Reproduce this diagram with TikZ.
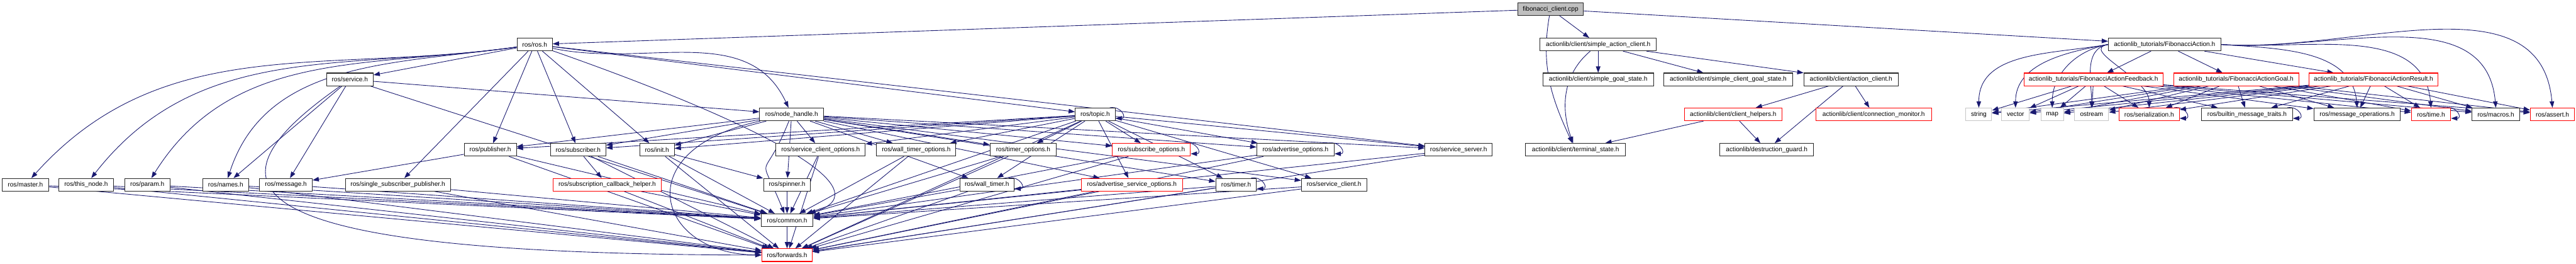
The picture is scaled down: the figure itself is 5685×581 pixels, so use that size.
\documentclass[tikz,border=0pt]{standalone}
\usepackage{fontspec}
\setmainfont{Liberation Sans}
\usetikzlibrary{arrows.meta}
\definecolor{edgeblue}{RGB}{25,25,112}
\pgfdeclarelayer{edges}
\pgfsetlayers{edges,main}

\begin{document}
\begin{tikzpicture}[x=0.02cm, y=0.02cm,
    file/.style={draw=black!85, line width=0.8pt, fill=white, minimum height=0.56cm,
      inner sep=0pt, font=\fontsize{8}{9.6}\selectfont},
    redfile/.style={file, draw=red},
    sysfile/.style={file, draw=gray!45},
    rootfile/.style={file, fill=gray!50},
    wd/.style={minimum width=#1*0.02cm},
    edge/.style={draw=edgeblue, line width=0.7pt, -{Triangle[length=0.28cm,width=0.2cm]}}]
        \useasboundingbox (0,0) rectangle (5685,-581);
        % Define rows
        \def\rowA{-20}
        \def\rowB{-98}
        \def\rowC{-175}
        \def\rowD{-252}
        \def\rowE{-330}
        \def\rowF{-407}
        \def\rowG{-485}
        \def\rowH{-562}
        % Root file
        \node[rootfile, wd=145] (fib) at (3422,\rowA) {fibonacci\_client.cpp};
        % Second row
        \node[file, wd=78] (ros) at (1180,\rowB) {ros/ros.h};
        \node[file, wd=257] (sac) at (3527,\rowB) {actionlib/client/simple\_action\_client.h};
        \node[file, wd=248] (fbaction) at (4777,\rowB) {actionlib\_tutorials/FibonacciAction.h};
        % Third row
        \node[file, wd=103] (service) at (772,\rowC) {ros/service.h};
        \node[file, wd=244] (sgstate) at (3527,\rowC) {actionlib/client/simple\_goal\_state.h};
        \node[file, wd=285] (scgstate) at (3814,\rowC) {actionlib/client/simple\_client\_goal\_state.h};
        \node[file, wd=208] (aclient) at (4085,\rowC) {actionlib/client/action\_client.h};
        \node[redfile, wd=307] (fbfeedback) at (4620,\rowC) {actionlib\_tutorials/FibonacciActionFeedback.h};
        \node[redfile, wd=276] (fbgoal) at (4935,\rowC) {actionlib\_tutorials/FibonacciActionGoal.h};
        \node[redfile, wd=285] (fbresult) at (5238,\rowC) {actionlib\_tutorials/FibonacciActionResult.h};
        % Fourth row
        \node[file, wd=141] (nh) at (1747,\rowD) {ros/node\_handle.h};
        \node[file, wd=88] (topic) at (2417,\rowD) {ros/topic.h};
        \node[redfile, wd=216] (chelp) at (3825,\rowD) {actionlib/client/client\_helpers.h};
        \node[redfile, wd=255] (cmon) at (4135,\rowD) {actionlib/client/connection\_monitor.h};
        \node[sysfile, wd=57] (string) at (4367,\rowD) {string};
        \node[sysfile, wd=61] (vector) at (4448,\rowD) {vector};
        \node[sysfile, wd=50] (map) at (4529,\rowD) {map};
        \node[sysfile, wd=75] (ostream) at (4616,\rowD) {ostream};
        \node[redfile, wd=133] (serial) at (4743,\rowD) {ros/serialization.h};
        \node[file, wd=201] (traits) at (4959,\rowD) {ros/builtin\_message\_traits.h};
        \node[file, wd=191] (msgops) at (5202,\rowD) {ros/message\_operations.h};
        \node[redfile, wd=87] (rtime) at (5365,\rowD) {ros/time.h};
        \node[file, wd=105] (macros) at (5508,\rowD) {ros/macros.h};
        \node[redfile, wd=98] (rassert) at (5633,\rowD) {ros/assert.h};
        % Fifth row
        \node[file, wd=115] (pub) at (1082,\rowE) {ros/publisher.h};
        \node[file, wd=122] (sub) at (1276,\rowE) {ros/subscriber.h};
        \node[file, wd=76] (init) at (1450,\rowE) {ros/init.h};
        \node[file, wd=197] (sco) at (1811,\rowE) {ros/service\_client\_options.h};
        \node[file, wd=175] (wto) at (2022,\rowE) {ros/wall\_timer\_options.h};
        \node[file, wd=146] (tmo) at (2258,\rowE) {ros/timer\_options.h};
        \node[redfile, wd=172] (subopt) at (2541,\rowE) {ros/subscribe\_options.h};
        \node[file, wd=171] (advopt) at (2859,\rowE) {ros/advertise\_options.h};
        \node[file, wd=148] (srvserver) at (3219,\rowE) {ros/service\_server.h};
        \node[file, wd=221] (termstate) at (3477,\rowE) {actionlib/client/terminal\_state.h};
        \node[file, wd=207] (dguard) at (3899,\rowE) {actionlib/destruction\_guard.h};
        % Sixth row
        \node[file, wd=103] (master) at (56,\rowF) {ros/master.h};
        \node[file, wd=120] (thisnode) at (190,\rowF) {ros/this\_node.h};
        \node[file, wd=100] (param) at (325,\rowF) {ros/param.h};
        \node[file, wd=102] (names) at (498,\rowF) {ros/names.h};
        \node[file, wd=116] (message) at (631,\rowF) {ros/message.h};
        \node[file, wd=232] (ssp) at (878,\rowF) {ros/single\_subscriber\_publisher.h};
        \node[redfile, wd=239] (sch) at (1340,\rowF) {ros/subscription\_callback\_helper.h};
        \node[file, wd=104] (spinner) at (1737,\rowF) {ros/spinner.h};
        \node[file, wd=120] (walltimer) at (2178,\rowF) {ros/wall\_timer.h};
        \node[redfile, wd=223] (aso) at (2498,\rowF) {ros/advertise\_service\_options.h};
        \node[file, wd=90] (timer) at (2728,\rowF) {ros/timer.h};
        \node[file, wd=144] (srvclient) at (2944,\rowF) {ros/service\_client.h};
        % Bottom rows
        \node[file, wd=115] (common) at (1737,\rowG) {ros/common.h};
        \node[redfile, wd=111] (forwards) at (1737,\rowH) {ros/forwards.h};

        \begin{pgfonlayer}{edges}
            % Root includes
            \draw[edge] (fib) -- (ros);
            \draw[edge] (fib) -- (sac);
            \draw[edge] (fib) -- (fbaction);
            \draw[edge] (fib) to[out=-100,in=115] (termstate);
            % ros/ros.h
            \foreach \n/\a in {master/48,thisnode/52,param/58,names/72}
                \draw[edge] (ros) to[out=188,in=\a] (\n);
            \foreach \n in {service,pub,sub,init,ssp,topic,srvserver}
                \draw[edge] (ros) -- (\n);
            \draw[edge] (ros) to[out=-12,in=115] (nh);
            \draw[edge] (ros) .. controls (1700,-280) and (1950,-420) .. (common);
            % ros/service.h
            \foreach \n in {names,message,nh,common}
                \draw[edge] (service) -- (\n);
            \draw[edge] (service) .. controls (420,-420) and (520,-560) .. (forwards);
            % ros/node_handle.h and ros/topic.h
            \foreach \n in {pub,sub,init,sco,wto,tmo,subopt,advopt,srvserver,srvclient,timer,walltimer,aso,spinner}
                \draw[edge] (nh) -- (\n);
            \draw[edge] (nh) to[out=-112,in=112,looseness=2] (common);
            \draw[edge] (nh) .. controls (1380,-330) and (1450,-560) .. (forwards);
            \foreach \n in {pub,sub,init,sco,wto,tmo,subopt,advopt,srvserver,srvclient,timer,walltimer,aso,common,forwards}
                \draw[edge] (topic) -- (\n);
            % Lower ros headers
            \draw[edge] (pub) -- (message);
            \draw[edge] (sub) -- (sch);
            \draw[edge] (init) -- (spinner);
            \foreach \n in {master,thisnode,param,names,message,ssp,sch,pub,sub,init,spinner,sco,wto,tmo,subopt,advopt,srvserver,srvclient,timer,walltimer,aso}
                \draw[edge] (\n) -- (common);
            \foreach \n in {master,thisnode,param,names,ssp,sch,pub,sub,init,sco,wto,tmo,subopt,advopt,srvserver,srvclient,timer,walltimer,aso,common}
                \draw[edge] (\n) -- (forwards);
            % actionlib client
            \draw[edge] (sac) to[out=-140,in=110] (termstate);
            \foreach \n in {sgstate,scgstate,aclient}
                \draw[edge] (sac) -- (\n);
            \foreach \n in {chelp,cmon,dguard}
                \draw[edge] (aclient) -- (\n);
            \draw[edge] (chelp) -- (termstate);
            \draw[edge] (chelp) -- (dguard);
            % Fibonacci action messages
            \foreach \n in {fbfeedback,fbgoal,fbresult}
                \draw[edge] (fbaction) -- (\n);
            \foreach \n in {string,vector,map,ostream,serial}
                \draw[edge] (fbaction.west) to[out=190,in=90] (\n.north);
            \foreach \n in {msgops,rtime,macros,rassert}
                \draw[edge] (fbaction.east) to[out=-4,in=95] (\n.north);
            \foreach \m in {fbfeedback,fbgoal,fbresult}
                \foreach \n in {string,vector,map,ostream,serial,traits,msgops,rtime,macros,rassert}
                    \draw[edge] (\m) -- (\n);
            % Self loops
            \foreach \n in {topic,subopt,advopt,walltimer,timer,serial,traits,rtime}
                \draw[edge] ([xshift=-0.25cm]\n.north east) to[out=10,in=0,looseness=2.5] ([yshift=0.12cm]\n.south east);
        \end{pgfonlayer}
    \end{tikzpicture}
\end{document}
